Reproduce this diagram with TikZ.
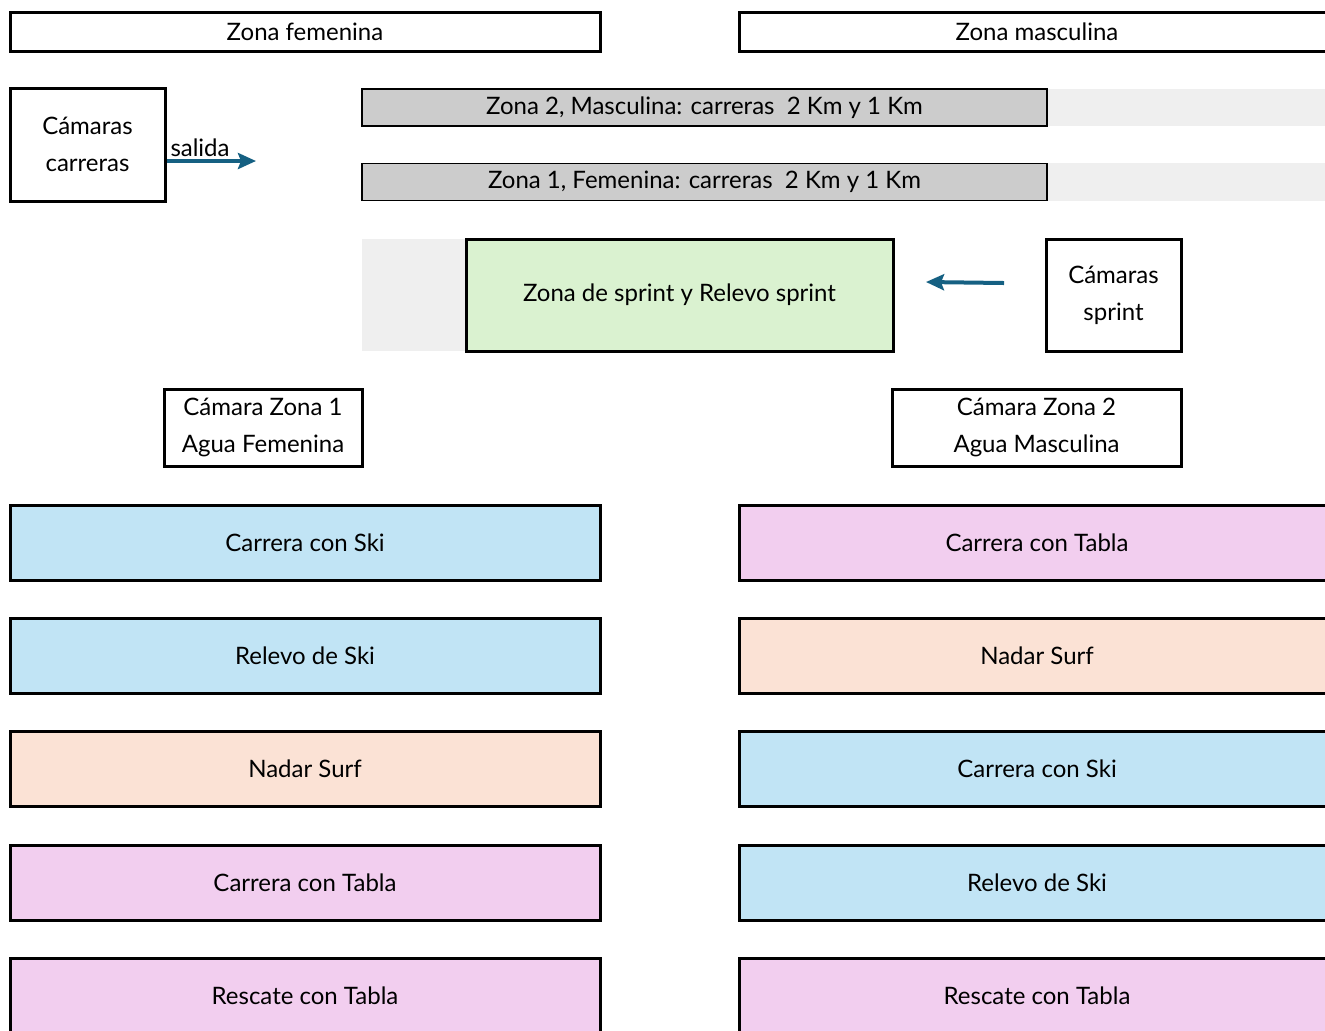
\documentclass[tikz,border=0pt]{standalone}
\usepackage{fontspec}
\setmainfont{Lato}
\usetikzlibrary{arrows.meta,positioning}
\definecolor{skiblue}{HTML}{C1E4F5}
\definecolor{tablapink}{HTML}{F2CEEF}
\definecolor{surfpeach}{HTML}{FBE2D5}
\definecolor{sprintgreen}{HTML}{DAF2D0}
\definecolor{trackgray}{HTML}{CCCCCC}
\definecolor{lanegray}{HTML}{EFEFEF}
\definecolor{arrowblue}{HTML}{156082}
\tikzset{%
	zonebox/.style = {draw, rectangle, line width=1.5pt, minimum width=295pt, minimum height=19.5pt, inner sep=0pt, text centered},
	camera/.style  = {draw, rectangle, line width=1.5pt, inner sep=0pt, align=center},
	track/.style   = {draw, rectangle, line width=0.7pt, fill=trackgray, minimum width=342.5pt, minimum height=18.5pt, inner sep=0pt},
	event/.style   = {draw, rectangle, line width=1.5pt, minimum width=295pt, minimum height=37.5pt, inner sep=0pt, text centered},
	arrow/.style   = {line width=2pt, arrowblue, -{Stealth[length=9pt,width=8pt,inset=1.5pt]}},
}

\begin{document}
\begin{tikzpicture}[x=0.5pt,y=-0.5pt,font=\fontsize{12pt}{18.5pt}\selectfont]
		\useasboundingbox (0,0) rectangle (1325,1030);
		\clip (0,0) rectangle (1325,1030);
		
		% zones
		\node[zonebox] (fem) at (305,31.5) {Zona femenina};
		\node[zonebox, minimum width=298pt] (masc) at (1037,31.5) {Zona masculina};
		
		% tracks
		\fill[lanegray] (1047,89) rectangle (1325,126);
		\fill[lanegray] (1047,163) rectangle (1325,201);
		\fill[lanegray] (362,239) rectangle (466,351);
		\node[track] (track2) at (704.5,107.5) {Zona 2, Masculina: carreras\ \ 2 Km y 1 Km};
		\node[track] (track1) at (704.5,182) {Zona 1, Femenina: carreras\ \ 2 Km y 1 Km};
		\node[draw, line width=1.5pt, fill=sprintgreen, minimum width=213.5pt, minimum height=56pt] (sprint) at (679.5,295) {Zona de sprint y Relevo sprint};
		
		% cameras
		\node[camera, minimum width=77.5pt, minimum height=56.5pt] (camcarr) at (87.5,144.5) {Cámaras\\carreras};
		\node[camera, minimum width=67.5pt, minimum height=56pt] (camsprint) at (1113.5,295) {Cámaras\\sprint};
		\node[camera, minimum width=99pt, minimum height=38.5pt] (camfem) at (263,427.5) {Cámara Zona 1\\Agua Femenina};
		\node[camera, minimum width=144.5pt, minimum height=38.5pt] (cammasc) at (1036.5,427.5) {Cámara Zona 2\\Agua Masculina};
		
		\coordinate (salida) at (256,161);
		\draw[arrow] (camcarr.east |- salida) node[above right, inner sep=1pt, black] {salida} -- (salida);
		\coordinate (sprintfrom) at (1004,283);
		\coordinate (sprintto) at (926,282);
		\draw[arrow] (sprintfrom) -- (sprintto);
		
		% events
		\foreach \i/\y/\col/\txt in {1/542.5/skiblue/Carrera con Ski, 2/655.5/skiblue/Relevo de Ski, 3/769/surfpeach/Nadar Surf, 4/882.5/tablapink/Carrera con Tabla, 5/996/tablapink/Rescate con Tabla}
			\node[event, fill=\col] (fem\i) at (305,\y) {\txt};
		\foreach \i/\y/\col/\txt in {1/542.5/tablapink/Carrera con Tabla, 2/655.5/surfpeach/Nadar Surf, 3/769/skiblue/Carrera con Ski, 4/882.5/skiblue/Relevo de Ski, 5/996/tablapink/Rescate con Tabla}
			\node[event, fill=\col, minimum width=298pt] (masc\i) at (1037,\y) {\txt};
\end{tikzpicture}
\end{document}
